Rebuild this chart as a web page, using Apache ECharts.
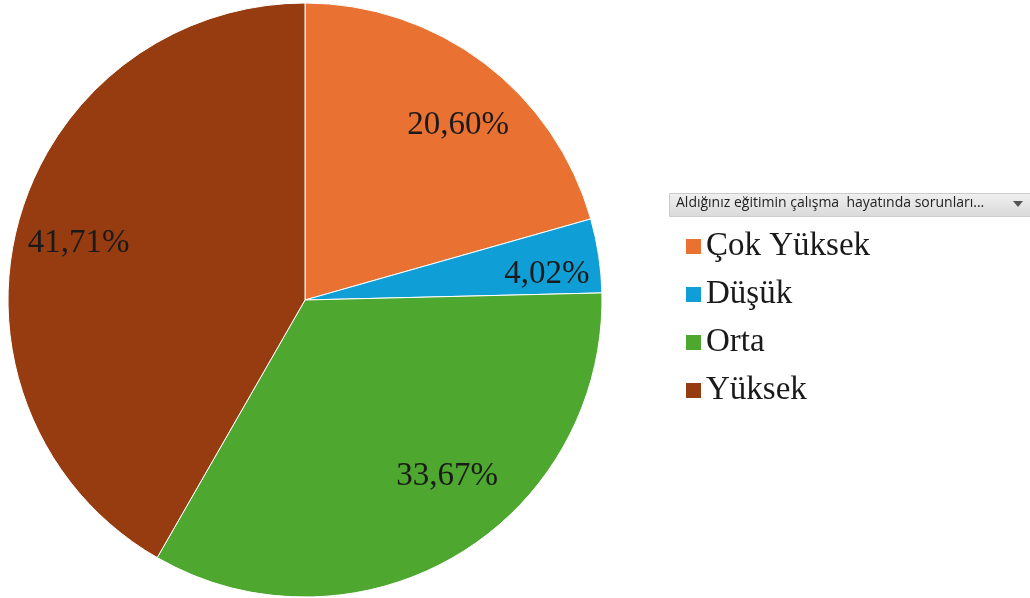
<!DOCTYPE html>
<html><head><meta charset="utf-8">
<script src="https://cdn.jsdelivr.net/npm/echarts@6/dist/echarts.min.js"></script>
<style>html,body{margin:0;padding:0;background:#fff}#c{width:1030px;height:598px}</style>
</head><body><div id="c"></div>
<script>
const categories = ['Çok Yüksek', 'Düşük', 'Orta', 'Yüksek'];
const values = [20.60, 4.02, 33.67, 41.71];
const colors = ['#E97132', '#0F9ED5', '#4EA72E', '#963C10'];
const headerText = 'Aldığınız eğitimin çalışma  hayatında sorunları...';
// small label nudges (Excel best-fit placement)
const labelNudges = [[8, 17], [4, 10], [19, -30], [6, 5]];

const chart = echarts.init(document.getElementById('c'), null, {renderer: 'canvas'});
const data = categories.map((n, i) => ({name: n, value: values[i], itemStyle: {color: colors[i]}}));
const fmt = p => p.value.toFixed(2).replace('.', ',') + '%';
chart.setOption({
  animation: false,
  legend: {
    orient: 'vertical', left: 679, top: 225,
    icon: 'rect', itemWidth: 17, itemHeight: 17, itemGap: 15,
    data: categories,
    textStyle: {fontFamily: 'Liberation Serif', fontSize: 33, color: '#1a1a1a', lineHeight: 33, padding: [0, 0, 0, -1]}
  },
  graphic: [
    {type: 'rect', left: 669, top: 193, shape: {width: 361, height: 23},
     style: {fill: new echarts.graphic.LinearGradient(0,0,0,1,[{offset:0,color:'#f0f0f0'},{offset:1,color:'#d9d9d9'}]), stroke: '#cccccc', lineWidth: 1}},
    {type: 'text', left: 676, top: 196, style: {text: headerText, font: '14px "Open Sans", sans-serif', fill: '#222'}},
    {type: 'polygon', shape: {points: [[1013,201],[1023,201],[1018,207]]}, style: {fill: '#555'}}
  ],
  series: [
    {type: 'pie', center: [305, 300], radius: [0, 297], startAngle: 90, clockwise: true,
     silent: true, label: {show: false}, labelLine: {show: false},
     itemStyle: {borderColor: '#fff', borderWidth: 1}, data: data},
    {type: 'pie', center: [305, 300], radius: [178, 297], startAngle: 90, clockwise: true,
     silent: true, legendHoverLink: false,
     itemStyle: {color: 'rgba(0,0,0,0)', borderWidth: 0},
     label: {show: true, position: 'inside', formatter: fmt, fontFamily: 'Liberation Serif', fontSize: 33, color: '#1a1a1a'},
     labelLine: {show: false},
     data: categories.map((n, i) => ({name: n, value: values[i], itemStyle: {color: 'rgba(0,0,0,0)'},
       label: {offset: labelNudges[i]}}))}
  ]
});
</script></body></html>
